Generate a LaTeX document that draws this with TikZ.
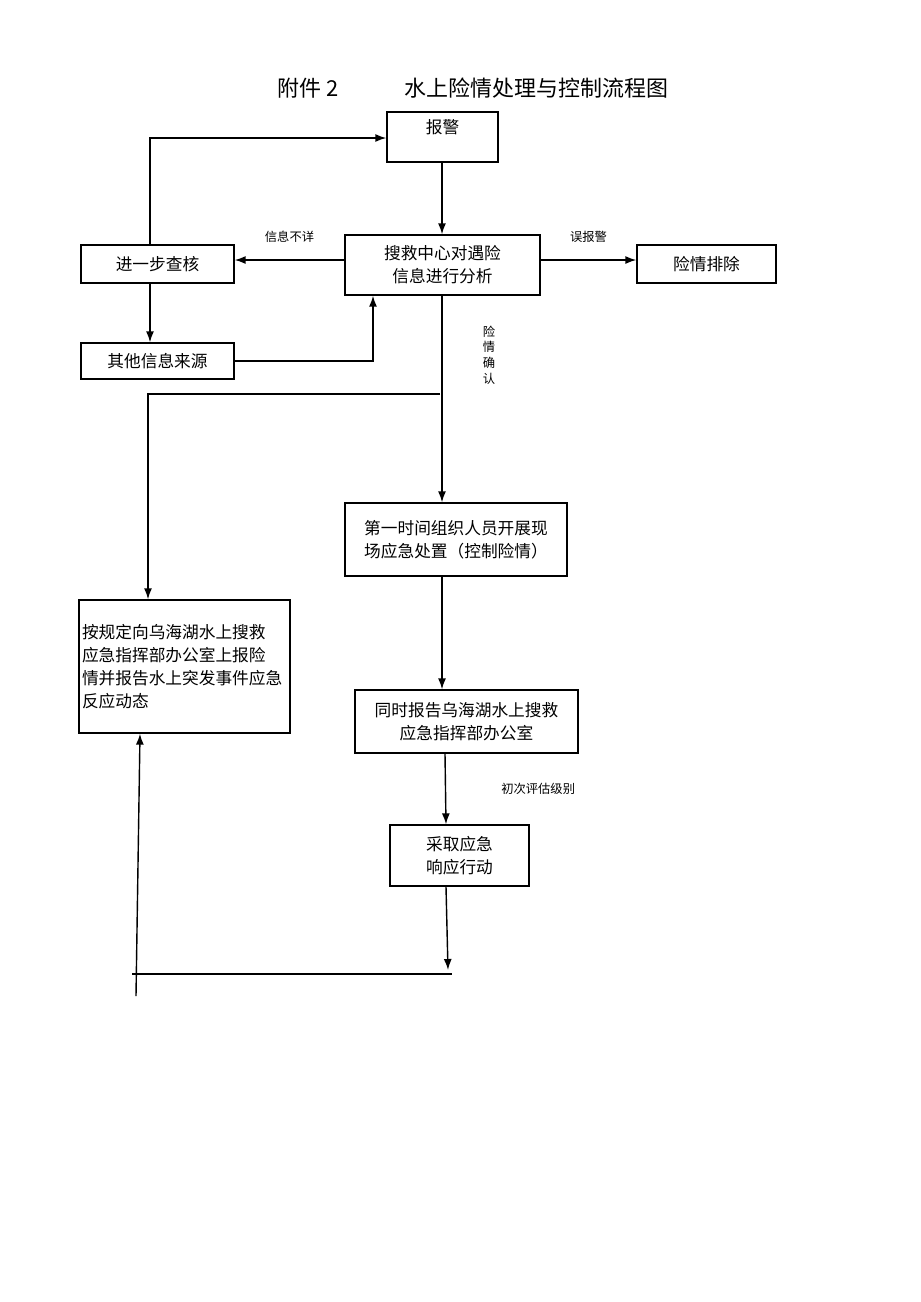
\documentclass[tikz,border=0pt]{standalone}
\usepackage{fontspec}
\setmainfont{Noto Sans CJK SC}
\usetikzlibrary{arrows.meta, positioning, calc}

\begin{document}
\begin{tikzpicture}[
        x=0.02cm, y=-0.02cm,
        font=\fontsize{9.5pt}{13pt}\selectfont,
        box/.style={draw, thick, align=center, inner sep=1pt},
        lbl/.style={font=\fontsize{7pt}{9pt}\selectfont},
        arr/.style={thick, -{Latex[length=2.2mm, width=1.6mm]}}
    ]
        \useasboundingbox (0,0) rectangle (920,1302);

        \node at (473,88) {\fontsize{12.5pt}{15pt}\selectfont 附件 2\hspace{3em}水上险情处理与控制流程图};

        \node[box, minimum width=2.22cm, minimum height=1cm] (alarm) at (442.5,137) {};
        \node[below=1pt] at (alarm.north) {报警};
        \node[box, minimum width=3.9cm, minimum height=1.2cm] (center) at (442.5,265) {搜救中心对遇险\\信息进行分析};
        \node[box, minimum width=3.06cm, minimum height=0.76cm] (check) at (157.5,264) {进一步查核};
        \node[box, minimum width=2.78cm, minimum height=0.76cm] (clear) at (706.5,264) {险情排除};
        \node[box, minimum width=3.06cm, minimum height=0.72cm] (other) at (157.5,361) {其他信息来源};
        \node[box, minimum width=4.44cm, minimum height=1.46cm] (first) at (456,539.5) {第一时间组织人员开展现\\场应急处置（控制险情）};
        \node[box, minimum width=4.22cm, minimum height=2.66cm, align=left, text width=4.1cm] (rule) at (184.5,666.5)
            {按规定向乌海湖水上搜救\\应急指挥部办公室上报险\\情并报告水上突发事件应急\\反应动态\\[0.8em]};
        \node[box, minimum width=4.46cm, minimum height=1.26cm] (report) at (466.5,721.5) {同时报告乌海湖水上搜救\\应急指挥部办公室};
        \node[box, minimum width=2.78cm, minimum height=1.22cm] (act) at (459.5,855.5) {采取应急\\响应行动};

        \coordinate (split) at (440,394);
        \coordinate (actend) at (448,970);
        \coordinate (hl) at (132,974);
        \coordinate (hr) at (452,974);
        \coordinate (vb) at (136,996);

        \draw[arr] (alarm.south -| 442,0) -- (center.north -| 442,0);
        \draw[arr] (center.west |- 0,260) -- node[lbl, above=6pt] {信息不详} (check.east |- 0,260);
        \draw[arr] (center.east |- 0,260) -- node[lbl, above=6pt] {误报警} (clear.west |- 0,260);
        \draw[arr] (check.north -| 150,0) -- (150,138) -- (alarm.west |- 0,138);
        \draw[arr] (check.south -| 150,0) -- (other.north -| 150,0);
        \draw[arr] (other.east) -- (373,361) -- (center.south -| 373,0);
        \draw[arr] (center.south -| 442,0) -- (first.north -| 442,0);
        \node[lbl, align=center] at (489,355) {险\\情\\确\\认};
        \draw[arr] (split) -- (148,394) -- (rule.north -| 148,0);
        \draw[arr] (first.south -| 442,0) -- (report.north -| 442,0);
        \draw[arr] (report.south -| 445,0) -- node[lbl, right=28pt] {初次评估级别} (act.north -| 446,0);
        \draw[arr] (act.south -| 446,0) -- (actend);
        \draw[thick] (hl) -- (hr);
        \draw[arr] (vb) -- (rule.south -| 140,0);
\end{tikzpicture}
\end{document}
